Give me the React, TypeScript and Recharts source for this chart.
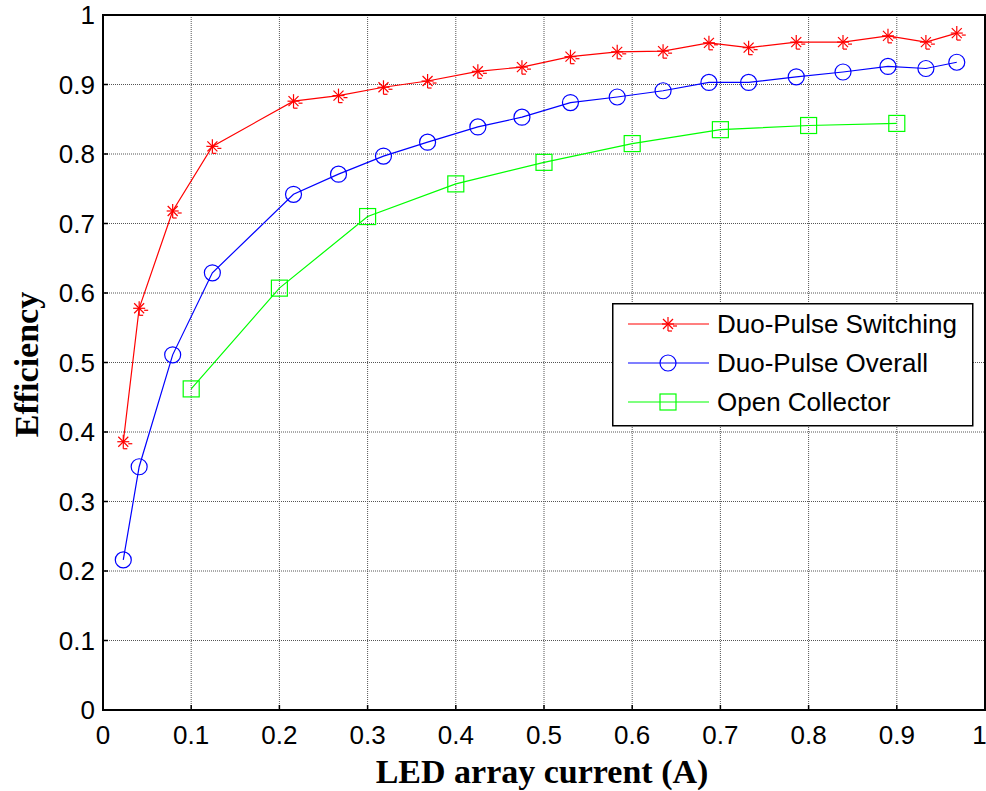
import React from "react";
import {
    LineChart,
    Line,
    XAxis,
    YAxis,
    CartesianGrid,
    Legend,
    ReferenceArea,
} from "recharts";

// LED array current (A), shared by both duo-pulse series
const duoCurrent = [
    0.023, 0.041, 0.079, 0.124, 0.216, 0.267, 0.318, 0.368, 0.425, 0.475,
    0.53, 0.583, 0.635, 0.687, 0.732, 0.786, 0.839, 0.89, 0.933, 0.968,
];
const switchingEff = [
    0.386, 0.578, 0.718, 0.811, 0.876, 0.884, 0.896, 0.905, 0.919, 0.925,
    0.94, 0.947, 0.948, 0.96, 0.953, 0.961, 0.961, 0.97, 0.961, 0.974,
];
const overallEff = [
    0.216, 0.35, 0.511, 0.629, 0.742, 0.771, 0.797, 0.817, 0.839, 0.853,
    0.874, 0.882, 0.891, 0.903, 0.903, 0.911, 0.918, 0.926, 0.923, 0.932,
];
const openCurrent = [0.1, 0.2, 0.3, 0.4, 0.5, 0.6, 0.7, 0.8, 0.9];
const openEff = [0.462, 0.607, 0.71, 0.757, 0.788, 0.815, 0.835, 0.841, 0.844];

const xTicks = [0, 0.1, 0.2, 0.3, 0.4, 0.5, 0.6, 0.7, 0.8, 0.9, 1];
const yTicks = [0, 0.1, 0.2, 0.3, 0.4, 0.5, 0.6, 0.7, 0.8, 0.9, 1];

const seriesNames = ["Duo-Pulse Switching", "Duo-Pulse Overall", "Open Collector"];

const RED = "#ff0000";
const BLUE = "#0000ff";
const GREEN = "#00ff00";

const switchingData = duoCurrent.map((x, i) => ({ x, y: switchingEff[i] }));
const overallData = duoCurrent.map((x, i) => ({ x, y: overallEff[i] }));
const openData = openCurrent.map((x, i) => ({ x, y: openEff[i] }));

const sansFont = "Arial, 'Liberation Sans', sans-serif";
const serifFont = "'Times New Roman', 'Liberation Serif', serif";

// matlab-ish asterisk, with the little render smudges under it
const star = (cx: number, cy: number) => (
    <g stroke={RED} strokeWidth={1.2} fill="none">
        <line x1={cx - 6} y1={cy} x2={cx + 6} y2={cy} />
        <line x1={cx} y1={cy - 7} x2={cx} y2={cy + 7} />
        <line x1={cx - 5} y1={cy - 5} x2={cx + 5} y2={cy + 5} />
        <line x1={cx - 5} y1={cy + 5} x2={cx + 5} y2={cy - 5} />
        <line x1={cx + 5} y1={cy + 2} x2={cx + 9} y2={cy + 2} />
        <line x1={cx} y1={cy + 7} x2={cx + 4} y2={cy + 7} />
    </g>
);

const circle = (cx: number, cy: number) => (
    <circle cx={cx} cy={cy} r={8} stroke={BLUE} strokeWidth={1.2} fill="none" />
);

const square = (cx: number, cy: number) => (
    <rect
        x={cx - 8}
        y={cy - 8}
        width={16}
        height={16}
        stroke={GREEN}
        strokeWidth={1.2}
        fill="none"
    />
);

const makeDot = (draw: (cx: number, cy: number) => React.ReactElement) =>
    (props: any) => {
        const { cx, cy, index } = props;
        if (cx == null || cy == null) return <g key={index} />;
        return <g key={index}>{draw(cx, cy)}</g>;
    };

const LegendBox = () => {
    const rows = [
        { color: RED, draw: star },
        { color: BLUE, draw: circle },
        { color: GREEN, draw: square },
    ];
    return (
        <svg width={362} height={124} style={{ display: "block" }}>
            <rect x={0.75} y={0.75} width={360} height={122} fill="#fff" stroke="#000" strokeWidth={1.5} />
            {rows.map((r, i) => {
                const cy = 21 + i * 39;
                return (
                    <g key={i}>
                        <line x1={16} y1={cy} x2={97} y2={cy} stroke={r.color} strokeWidth={1.2} />
                        {r.draw(56, cy)}
                        <text
                            x={105}
                            y={cy + 9}
                            fontFamily={sansFont}
                            fontSize={26}
                            fill="#000"
                        >
                            {seriesNames[i]}
                        </text>
                    </g>
                );
            })}
        </svg>
    );
};

const XTitle = (props: any) => {
    const { x, width } = props.viewBox;
    return (
        <text
            x={x + width / 2 - 2}
            y={783}
            textAnchor="middle"
            fontFamily={serifFont}
            fontWeight="bold"
            fontSize={34}
            fill="#000"
        >
            LED array current (A)
        </text>
    );
};

const YTitle = (props: any) => {
    const { y, height } = props.viewBox;
    const cx = 38;
    const cy = y + height / 2 + 2;
    return (
        <text
            x={cx}
            y={cy}
            transform={`rotate(-90, ${cx}, ${cy})`}
            textAnchor="middle"
            fontFamily={serifFont}
            fontWeight="bold"
            fontSize={34}
            fill="#000"
        >
            Efficiency
        </text>
    );
};

export default function App() {
    return (
        <div style={{ position: "absolute", left: 0, top: 0, background: "#fff" }}>
            <LineChart
                width={986}
                height={791}
                margin={{ top: 15, right: 1, left: 0, bottom: 0 }}
            >
                <CartesianGrid stroke="#555" strokeDasharray="1 1" />
                <XAxis
                    type="number"
                    dataKey="x"
                    domain={[0, 1]}
                    ticks={xTicks}
                    height={81}
                    axisLine={false}
                    tickLine={{ stroke: "#000", strokeWidth: 1.5 }}
                    tickSize={-5}
                    tickMargin={21}
                    tick={{ fontFamily: sansFont, fontSize: 26, fill: "#000" }}
                    label={<XTitle />}
                    allowDataOverflow
                />
                <YAxis
                    type="number"
                    domain={[0, 1]}
                    ticks={yTicks}
                    width={103}
                    axisLine={false}
                    tickLine={{ stroke: "#000", strokeWidth: 1.5 }}
                    tickSize={-5}
                    tickMargin={13}
                    tick={{ fontFamily: sansFont, fontSize: 26, fill: "#000" }}
                    label={<YTitle />}
                    allowDataOverflow
                />
                <ReferenceArea
                    x1={0}
                    x2={1}
                    y1={0}
                    y2={1}
                    fill="none"
                    stroke="#000"
                    strokeWidth={2}
                    ifOverflow="visible"
                />
                <Line
                    data={switchingData}
                    dataKey="y"
                    name={seriesNames[0]}
                    type="linear"
                    stroke={RED}
                    strokeWidth={1.2}
                    dot={makeDot(star)}
                    activeDot={false}
                    isAnimationActive={false}
                />
                <Line
                    data={overallData}
                    dataKey="y"
                    name={seriesNames[1]}
                    type="linear"
                    stroke={BLUE}
                    strokeWidth={1.2}
                    dot={makeDot(circle)}
                    activeDot={false}
                    isAnimationActive={false}
                />
                <Line
                    data={openData}
                    dataKey="y"
                    name={seriesNames[2]}
                    type="linear"
                    stroke={GREEN}
                    strokeWidth={1.2}
                    dot={makeDot(square)}
                    activeDot={false}
                    isAnimationActive={false}
                />
                <Legend
                    layout="vertical"
                    align="center"
                    verticalAlign="middle"
                    content={<LegendBox />}
                    wrapperStyle={{ left: 612, top: 303, width: 362, height: 124 }}
                />
            </LineChart>
        </div>
    );
}
